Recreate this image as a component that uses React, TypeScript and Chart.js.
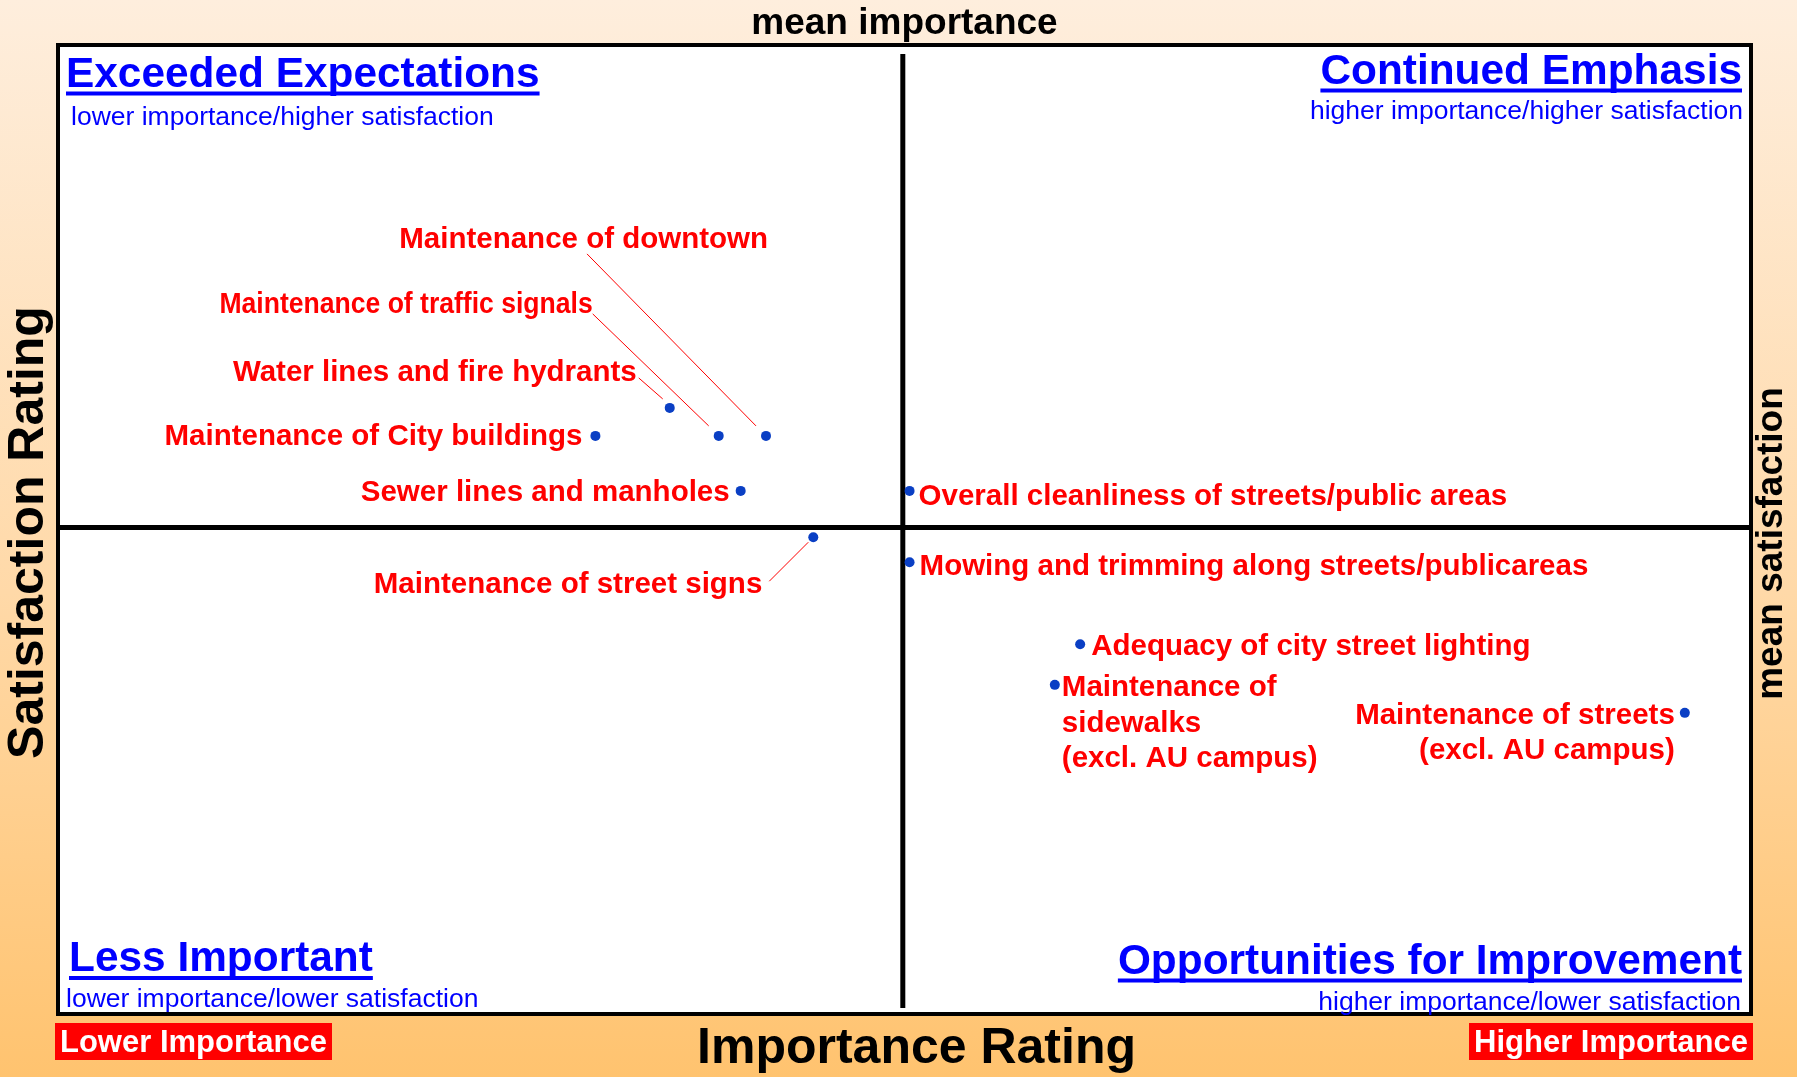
import React, { useEffect, useRef } from 'react';
import { Chart, registerables } from 'chart.js';

Chart.register(...registerables);

// ---------- data ----------
const serviceLabels: string[][] = [
  ['Maintenance of City buildings'],
  ['Water lines and fire hydrants'],
  ['Maintenance of traffic signals'],
  ['Maintenance of downtown'],
  ['Sewer lines and manholes'],
  ['Maintenance of street signs'],
  ['Overall cleanliness of streets/public areas'],
  ['Mowing and trimming along streets/publicareas'],
  ['Adequacy of city street lighting'],
  ['Maintenance of', 'sidewalks', '(excl. AU campus)'],
  ['Maintenance of streets', '(excl. AU campus)'],
];
const importanceValues = [31.7, 36.1, 39.0, 41.8, 40.3, 44.6, 50.3, 50.3, 60.4, 58.9, 96.2];
const satisfactionValues = [59.7, 62.6, 59.7, 59.7, 54.0, 49.2, 54.0, 46.6, 38.1, 33.9, 31.0];
const meanImportance = 49.9;
const meanSatisfaction = 50.2;

const quadrantTitles = ['Exceeded Expectations', 'Continued Emphasis', 'Less Important', 'Opportunities for Improvement'];
const quadrantSubtitles = [
  'lower importance/higher satisfaction',
  'higher importance/higher satisfaction',
  'lower importance/lower satisfaction',
  'higher importance/lower satisfaction',
];
const xAxisTitle = 'Importance Rating';
const yAxisTitle = 'Satisfaction Rating';
const meanXTitle = 'mean importance';
const meanYTitle = 'mean satisfaction';
const lowTag = 'Lower Importance';
const highTag = 'Higher Importance';

// ---------- layout (label placement relative to points, px) ----------
type LabelLayout = {
  align: CanvasTextAlign;
  dx: number;
  dy: number;
  squeeze?: number;
  leader?: [number, number, number, number];
};
const labelLayout: LabelLayout[] = [
  { align: 'right', dx: -13, dy: 0.5 },
  { align: 'right', dx: -33, dy: -35.5, leader: [-31, -30, -7, -9] },
  { align: 'right', dx: -126, dy: -131, squeeze: 0.9, leader: [-126, -122, -10, -10] },
  { align: 'right', dx: 2, dy: -196.5, leader: [-179, -182, -10, -10] },
  { align: 'right', dx: -11, dy: 1.5 },
  { align: 'right', dx: -51, dy: 47.5, leader: [-44, 44, -5, 5] },
  { align: 'left', dx: 9, dy: 5.5 },
  { align: 'left', dx: 10, dy: 4.5 },
  { align: 'left', dx: 11, dy: 2.5 },
  { align: 'left', dx: 7, dy: 3 },
  { align: 'right', dx: -10, dy: 3 },
];

const W = 1797;
const H = 1077;
const FF = '"Liberation Sans", Arial, Helvetica, sans-serif';

function drawText(
  ctx: CanvasRenderingContext2D,
  s: string,
  x: number,
  y: number,
  font: string,
  color: string,
  align: CanvasTextAlign,
  baseline: CanvasTextBaseline = 'middle',
  squeeze = 1,
) {
  ctx.font = font;
  ctx.fillStyle = color;
  ctx.textAlign = align;
  ctx.textBaseline = baseline;
  if (squeeze === 1) {
    ctx.fillText(s, x, y);
  } else {
    ctx.save();
    ctx.translate(x, y);
    ctx.scale(squeeze, 1);
    ctx.fillText(s, 0, 0);
    ctx.restore();
  }
}

function drawTitle(ctx: CanvasRenderingContext2D, s: string, x: number, baseY: number, align: CanvasTextAlign) {
  const font = `bold 42.4px ${FF}`;
  drawText(ctx, s, x, baseY, font, '#0000FF', align, 'alphabetic');
  const w = ctx.measureText(s).width;
  const left = align === 'right' ? x - w : x;
  ctx.fillRect(left, baseY + 5, w, 4);
}

const quadrantPlugin = {
  id: 'quadrantPlugin',
  beforeDatasetsDraw(chart: any) {
    const { ctx, chartArea: a } = chart;
    const xs = chart.scales.x;
    const ys = chart.scales.y;
    ctx.save();
    // plot box
    ctx.fillStyle = '#FFFFFF';
    ctx.fillRect(a.left, a.top, a.right - a.left, a.bottom - a.top);
    ctx.lineWidth = 4;
    ctx.strokeStyle = '#000000';
    ctx.strokeRect(a.left - 2, a.top - 2, a.right - a.left + 4, a.bottom - a.top + 4);

    // mean lines
    const mx = xs.getPixelForValue(meanImportance);
    const my = ys.getPixelForValue(meanSatisfaction);
    ctx.lineWidth = 5;
    ctx.beginPath();
    ctx.moveTo(a.left, my);
    ctx.lineTo(a.right, my);
    ctx.stroke();
    ctx.beginPath();
    ctx.moveTo(mx, a.top + 7);
    ctx.lineTo(mx, a.bottom - 4);
    ctx.stroke();

    // quadrant titles
    const subFont = `26.5px ${FF}`;
    drawTitle(ctx, quadrantTitles[0], a.left + 6, a.top + 39.5, 'left');
    drawText(ctx, quadrantSubtitles[0], a.left + 11, a.top + 70.5, subFont, '#0000FF', 'left');
    drawTitle(ctx, quadrantTitles[1], a.right - 7, a.top + 36.5, 'right');
    drawText(ctx, quadrantSubtitles[1], a.right - 6, a.top + 64.5, subFont, '#0000FF', 'right');
    drawTitle(ctx, quadrantTitles[2], a.left + 9, a.bottom - 41, 'left');
    drawText(ctx, quadrantSubtitles[2], a.left + 6, a.bottom - 12.5, subFont, '#0000FF', 'left');
    drawTitle(ctx, quadrantTitles[3], a.right - 7, a.bottom - 38.5, 'right');
    drawText(ctx, quadrantSubtitles[3], a.right - 8, a.bottom - 9.5, subFont, '#0000FF', 'right');

    // point labels and leaders
    const labelFont = `bold 29.5px ${FF}`;
    ctx.strokeStyle = '#FF0000';
    ctx.lineWidth = 1;
    importanceValues.forEach((v, i) => {
      const px = xs.getPixelForValue(v);
      const py = ys.getPixelForValue(satisfactionValues[i]);
      const L = labelLayout[i];
      serviceLabels[i].forEach((line, j) => {
        drawText(ctx, line, px + L.dx, py + L.dy + j * 35.5, labelFont, '#FF0000', L.align, 'middle', L.squeeze ?? 1);
      });
      if (L.leader) {
        ctx.beginPath();
        ctx.moveTo(px + L.leader[0], py + L.leader[1]);
        ctx.lineTo(px + L.leader[2], py + L.leader[3]);
        ctx.stroke();
      }
    });

    // outer titles
    drawText(ctx, meanXTitle, (a.left + a.right) / 2, a.top - 23.5, `bold 37px ${FF}`, '#000000', 'center');
    drawText(ctx, xAxisTitle, (a.left + a.right) / 2 + 12, a.bottom + 37.5, `bold 50px ${FF}`, '#000000', 'center');

    ctx.save();
    ctx.translate(29, (a.top + a.bottom) / 2 + 3);
    ctx.rotate(-Math.PI / 2);
    drawText(ctx, yAxisTitle, 0, 0, `bold 50px ${FF}`, '#000000', 'center');
    ctx.restore();

    ctx.save();
    ctx.translate(a.right + 23, (a.top + a.bottom) / 2 + 14);
    ctx.rotate(-Math.PI / 2);
    drawText(ctx, meanYTitle, 0, 0, `bold 37px ${FF}`, '#000000', 'center');
    ctx.restore();

    // importance tags
    const tagFont = `bold 31px ${FF}`;
    ctx.fillStyle = '#FF0000';
    ctx.fillRect(a.left - 5, a.bottom + 11, 277, 37);
    drawText(ctx, lowTag, a.left - 5 + 138.5, a.bottom + 31, tagFont, '#FFFFFF', 'center');
    ctx.fillStyle = '#FF0000';
    ctx.fillRect(a.right - 280, a.bottom + 11, 284, 37);
    drawText(ctx, highTag, a.right - 280 + 142, a.bottom + 31, tagFont, '#FFFFFF', 'center');

    ctx.restore();
  },
};

export default function App() {
  const ref = useRef<HTMLCanvasElement>(null);
  useEffect(() => {
    const canvas = ref.current;
    if (!canvas) return;
    const chart = new Chart(canvas, {
      type: 'scatter',
      data: {
        datasets: [
          {
            data: importanceValues.map((x, i) => ({ x, y: satisfactionValues[i] })),
            pointRadius: 5,
            pointHoverRadius: 5,
            pointBackgroundColor: '#0A3FC4',
            pointBorderWidth: 0,
            borderWidth: 0,
          },
        ],
      },
      options: {
        animation: false,
        responsive: false,
        devicePixelRatio: 1,
        layout: { padding: { left: 60, top: 47, right: W - 1749, bottom: H - 1012 } },
        scales: {
          x: { type: 'linear', min: 0, max: 100, display: false },
          y: { type: 'linear', min: 0, max: 100, display: false },
        },
        plugins: { legend: { display: false }, tooltip: { enabled: false }, title: { display: false } },
        events: [],
      },
      plugins: [quadrantPlugin],
    });
    return () => chart.destroy();
  }, []);

  return (
    <div
      style={{
        position: 'fixed',
        left: 0,
        top: 0,
        width: W,
        height: H,
        background: 'linear-gradient(to bottom, #FEEEDD 0%, #FFD9A8 55%, #FFC36F 100%)',
      }}
    >
      <canvas ref={ref} width={W} height={H} style={{ display: 'block', width: W, height: H }} />
    </div>
  );
}
